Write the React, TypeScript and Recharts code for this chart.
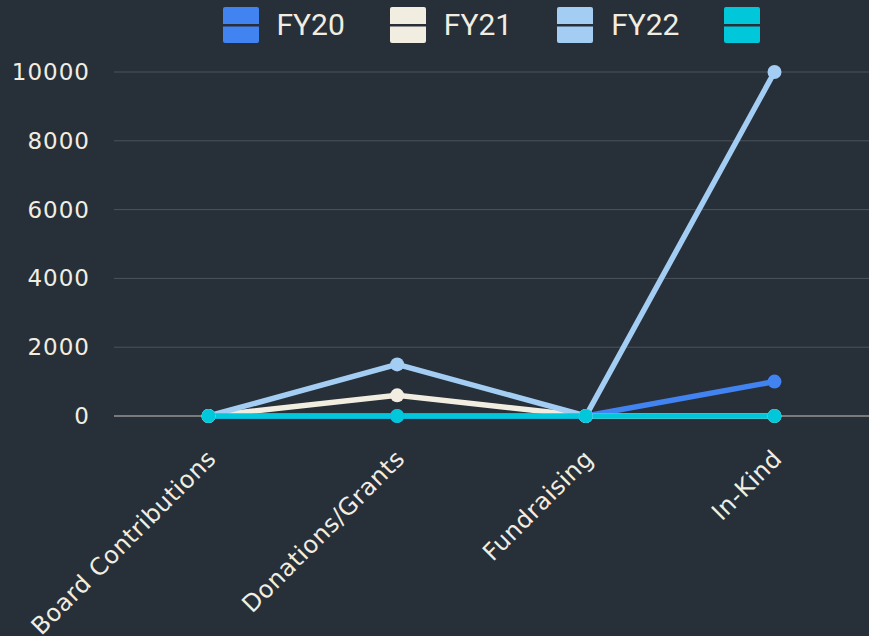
import React from "react";
import {
  LineChart,
  Line,
  XAxis,
  YAxis,
  CartesianGrid,
  ReferenceLine,
} from "recharts";

const categories = ["Board Contributions", "Donations/Grants", "Fundraising", "In-Kind"];
const fy20 = [0, 0, 0, 1000];
const fy21 = [0, 600, 0, 0];
const fy22 = [0, 1500, 0, 10000];
const series4 = [0, 0, 0, 0];
const yTicks = [0, 2000, 4000, 6000, 8000, 10000];

const seriesDefs = [
  { key: "fy20", name: "FY20", color: "#4283f2", values: fy20 },
  { key: "fy21", name: "FY21", color: "#f2ede1", values: fy21 },
  { key: "fy22", name: "FY22", color: "#a3cdf3", values: fy22 },
  { key: "s4", name: "", color: "#00c8da", values: series4 },
];

const data = categories.map((c, i) => {
  const row: any = { category: c };
  seriesDefs.forEach((s) => (row[s.key] = s.values[i]));
  return row;
});

const BG = "#272f38";
const TEXT = "#f2ede1";
const FONT = "'DejaVu Sans', sans-serif";

const XTick = (props: any) => {
  const { x, y, payload } = props;
  return (
    <g transform={`translate(${x + 9},${y + 44}) rotate(-45)`}>
      <text
        x={0}
        y={0}
        textAnchor="end"
        fill={TEXT}
        fontSize={24}
        fontFamily={FONT}
        letterSpacing={0.5}
      >
        {payload.value}
      </text>
    </g>
  );
};

const YTick = (props: any) => {
  const { y, payload } = props;
  return (
    <text
      x={90}
      y={y}
      dy={8}
      textAnchor="end"
      fill={TEXT}
      fontSize={23}
      fontFamily={FONT}
      letterSpacing={1}
    >
      {payload.value}
    </text>
  );
};

const LegendBar = () => (
  <div
    style={{
      position: "absolute",
      left: 114,
      top: 7,
      width: 755,
      display: "flex",
      justifyContent: "center",
      alignItems: "center",
      gap: 45,
    }}
  >
    {seriesDefs.map((s) => (
      <div key={s.key} style={{ display: "flex", alignItems: "center", gap: 18 }}>
        <svg width={36} height={36}>
          <rect x={0} y={0} width={36} height={36} rx={2} fill={s.color} />
          <rect x={0} y={17} width={36} height={2.5} fill={BG} />
        </svg>
        {s.name ? (
          <span
            style={{
              color: TEXT,
              fontFamily: "Roboto, sans-serif",
              fontSize: 30,
              lineHeight: "36px",
            }}
          >
            {s.name}
          </span>
        ) : null}
      </div>
    ))}
  </div>
);

export default function App() {
  return (
    <div
      style={{
        position: "fixed",
        left: 0,
        top: 0,
        width: 869,
        height: 636,
        background: BG,
        overflow: "hidden",
      }}
    >
      <LineChart
        width={869}
        height={636}
        data={data}
        margin={{ top: 72, right: 0, bottom: 0, left: 0 }}
      >
        <CartesianGrid vertical={false} stroke="#4c535b" strokeWidth={1} />
        <XAxis
          dataKey="category"
          height={220}
          interval={0}
          tickLine={false}
          tickSize={0}
          tickMargin={0}
          axisLine={false}
          padding={{ left: 94.5, right: 94.5 }}
          tick={<XTick />}
        />
        <YAxis
          width={114}
          domain={[0, 10000]}
          ticks={yTicks}
          axisLine={false}
          tickLine={false}
          tick={<YTick />}
        />
        <ReferenceLine y={0} stroke="#8e8e8e" strokeWidth={1.5} />
        {seriesDefs.map((s) => (
          <Line
            key={s.key}
            dataKey={s.key}
            name={s.name}
            stroke={s.color}
            strokeWidth={5.5}
            dot={{ r: 7, fill: s.color, stroke: s.color, strokeWidth: 0 }}
            activeDot={false}
            isAnimationActive={false}
          />
        ))}
      </LineChart>
      <LegendBar />
    </div>
  );
}
